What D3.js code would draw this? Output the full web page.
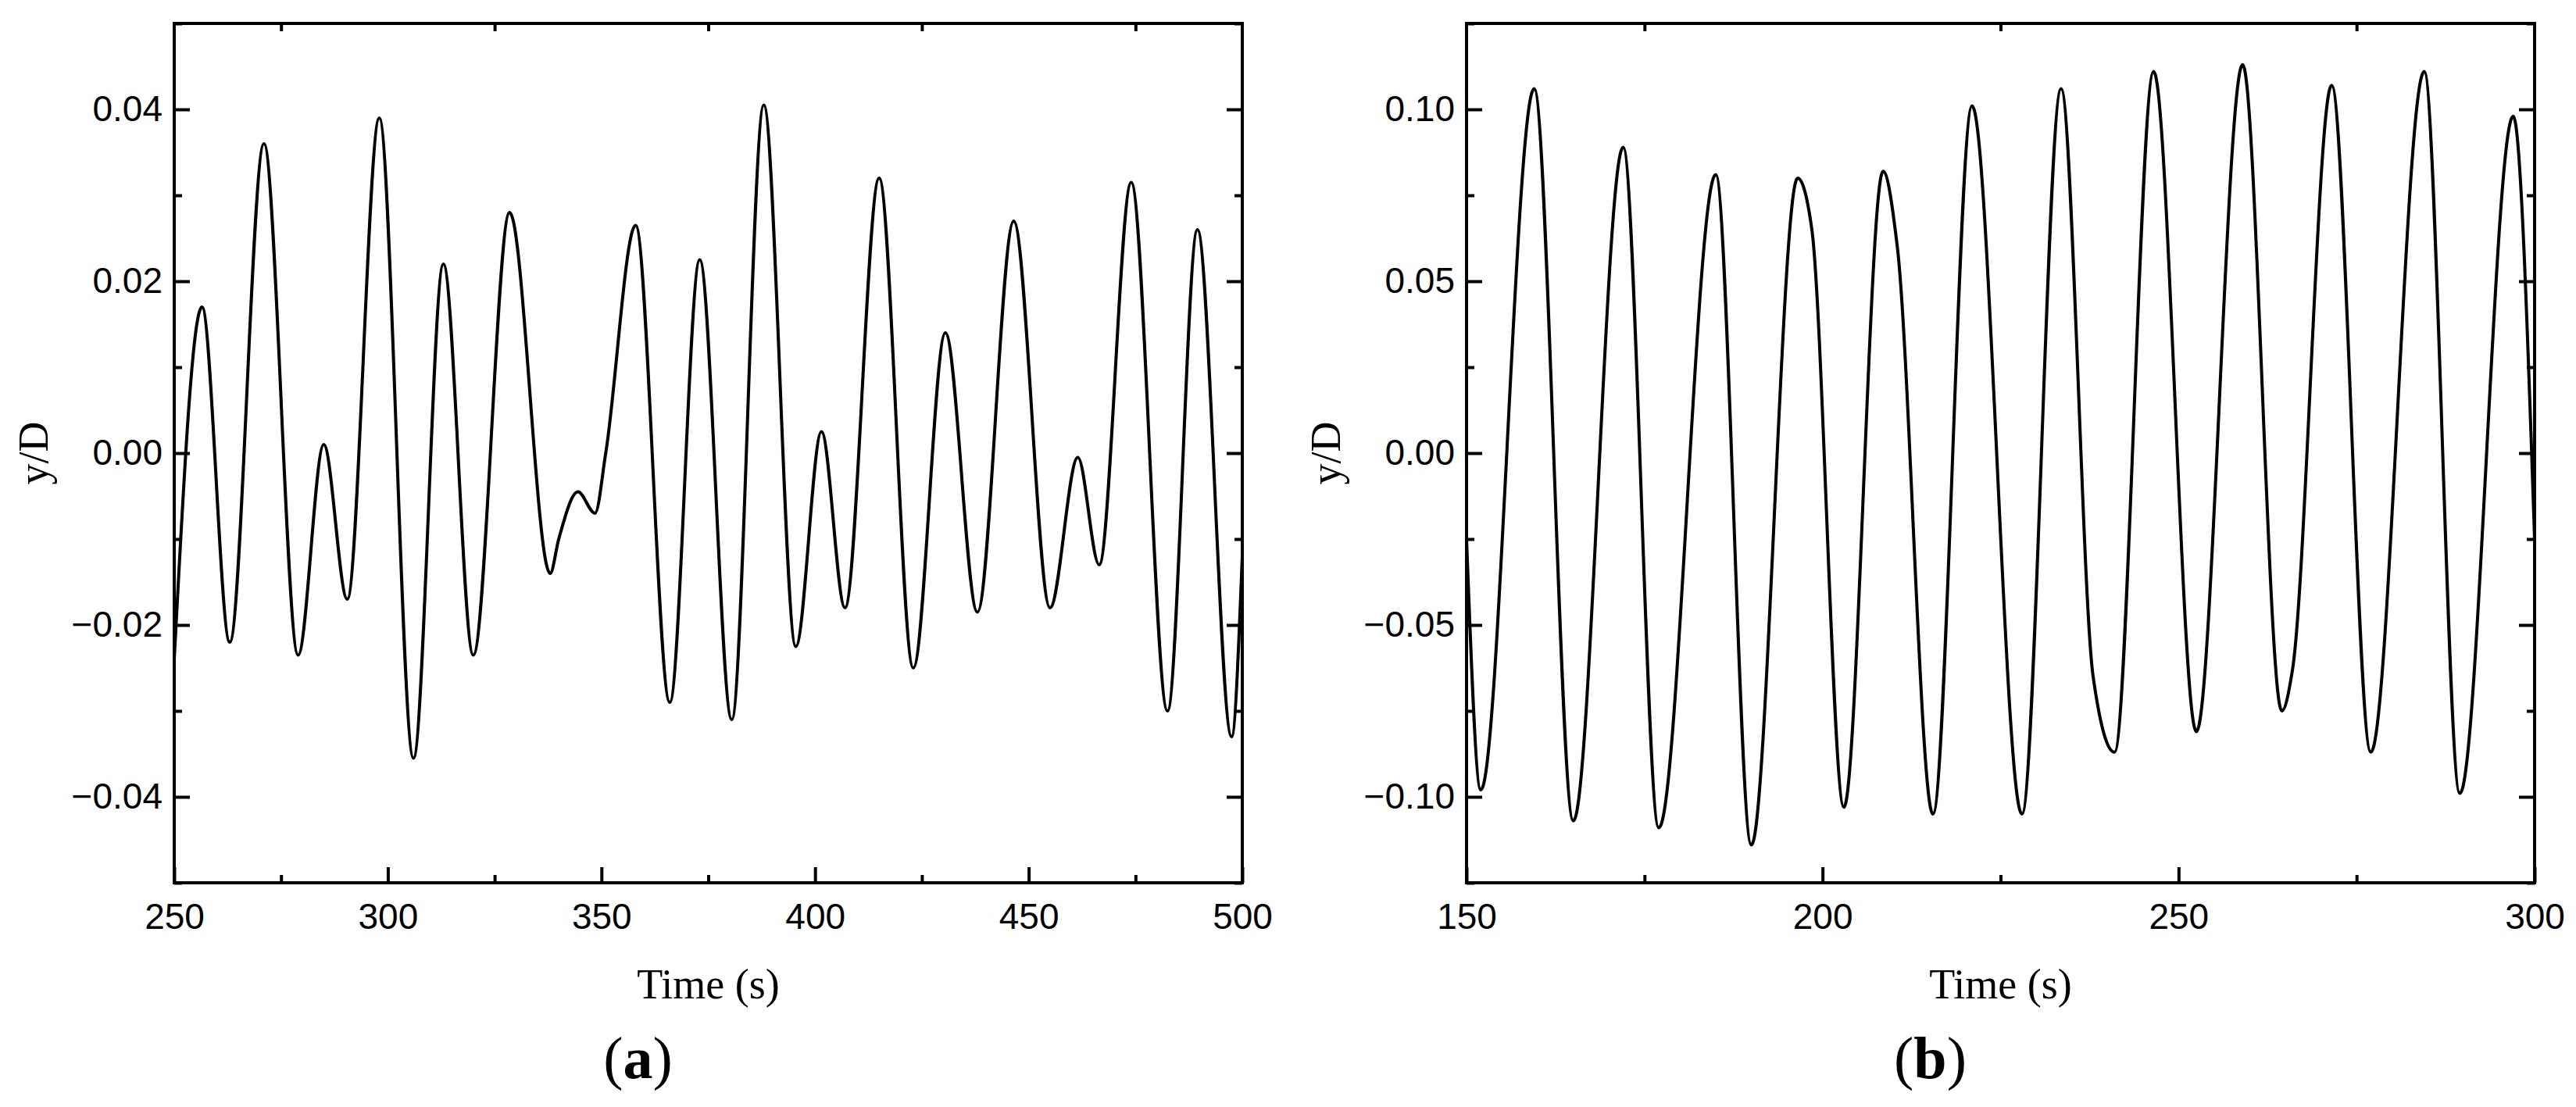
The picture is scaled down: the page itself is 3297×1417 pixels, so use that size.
<!DOCTYPE html>
<html><head><meta charset="utf-8">
<script src="https://cdn.jsdelivr.net/npm/d3@7"></script>
<style>body{margin:0;background:#fff}</style></head>
<body><svg id="c" width="3297" height="1417"></svg>
<script>
const timeA=[250,256.5,263,271,279,285,290.5,298,306,313,320,328.5,338,340,344.5,348.5,351,358,366,373,380.5,388,395.5,401.5,407,415,423,430.5,438,446.5,455,461.5,466.5,474,482.5,489.5,497.5,500];
const valA=[-0.024,0.017,-0.022,0.036,-0.0235,0.001,-0.017,0.039,-0.0355,0.022,-0.0235,0.028,-0.014,-0.010,-0.0045,-0.007,0.000,0.0265,-0.029,0.0225,-0.031,0.0405,-0.0225,0.0025,-0.018,0.032,-0.025,0.014,-0.0185,0.027,-0.018,-0.0005,-0.013,0.0315,-0.030,0.026,-0.033,-0.012];
const timeB=[150,152,159.5,165,172,177,185,190,196.5,198.5,203,208.5,210.5,215.5,221,228,233.5,238,241,246.5,252.5,259,264.5,266,271.5,277,284.5,289.5,297,300];
const valB=[-0.025,-0.098,0.106,-0.107,0.089,-0.109,0.081,-0.114,0.080,0.065,-0.103,0.082,0.060,-0.105,0.101,-0.105,0.106,-0.065,-0.087,0.111,-0.081,0.113,-0.075,-0.063,0.107,-0.087,0.111,-0.099,0.098,-0.025];
const ticksA_x=[250,300,350,400,450,500], ticksA_y=[-0.04,-0.02,0,0.02,0.04];
const ticksB_x=[150,200,250,300], ticksB_y=[-0.10,-0.05,0,0.05,0.10];
const svg=d3.select("#c");
function panel(o){
  const {x0,x1,t,v,xd,yd,xt,yt,xm,ym,lab}=o; const y0=30,y1=1130;
  const x=d3.scaleLinear().domain(xd).range([x0,x1]);
  const y=d3.scaleLinear().domain(yd).range([y1,y0]);
  const g=svg.append("g");
  const style=a=>{a.select(".domain").remove();a.selectAll("line").attr("stroke","#000").attr("stroke-width",4);
    a.selectAll("text").attr("font-family","Liberation Sans, Arial").attr("font-size",46).attr("fill","#000");};
  const allX=d3.range(xd[0],xd[1]+1e-9,xm), allY=d3.range(yd[0],yd[1]+1e-9,ym);
  const isMaj=(arr,d)=>arr.some(q=>Math.abs(q-d)<1e-9);
  g.append("g").attr("transform",`translate(0,${y1})`).call(d3.axisBottom(x).tickValues(xt).tickSize(-20).tickPadding(26).tickFormat(d3.format("d"))).call(style);
  g.append("g").attr("transform",`translate(0,${y1})`).call(d3.axisBottom(x).tickValues(allX.filter(d=>!isMaj(xt,d))).tickSize(-10).tickFormat("")).call(style);
  g.append("g").attr("transform",`translate(0,${y0})`).call(d3.axisTop(x).tickValues(allX.filter(d=>!isMaj(xt,d))).tickSize(-10).tickFormat("")).call(style);
  g.append("g").attr("transform",`translate(${x0},0)`).call(d3.axisLeft(y).tickValues(yt).tickSize(-20).tickPadding(15).tickFormat(d=>d3.format(".2f")(d).replace("-","\u2212"))).call(style);
  g.append("g").attr("transform",`translate(${x0},0)`).call(d3.axisLeft(y).tickValues(allY.filter(d=>!isMaj(yt,d))).tickSize(-10).tickFormat("")).call(style);
  g.append("g").attr("transform",`translate(${x1},0)`).call(d3.axisRight(y).tickValues(yt).tickSize(-20).tickFormat("")).call(style);
  g.append("g").attr("transform",`translate(${x1},0)`).call(d3.axisRight(y).tickValues(allY.filter(d=>!isMaj(yt,d))).tickSize(-10).tickFormat("")).call(style);
  g.append("rect").attr("x",x0).attr("y",y0).attr("width",x1-x0).attr("height",y1-y0).attr("fill","none").attr("stroke","#000").attr("stroke-width",4);
  const line=d3.line().x((d,i)=>x(t[i])).y(d=>y(d)).curve(d3.curveMonotoneX);
  g.append("path").datum(v).attr("d",line).attr("fill","none").attr("stroke","#000").attr("stroke-width",4);
  const cx=(x0+x1)/2;
  g.append("text").attr("x",cx).attr("y",1278).attr("text-anchor","middle").attr("font-family","Liberation Serif, Times New Roman").attr("font-size",54).text("Time (s)");
  g.append("text").attr("transform",`translate(${x0-162},${(y0+y1)/2}) rotate(-90)`).attr("text-anchor","middle").attr("font-family","Liberation Serif, Times New Roman").attr("font-size",54).text("y/D");
  const tt=g.append("text").attr("x",cx-90).attr("y",1380).attr("text-anchor","middle").attr("font-family","Liberation Serif, Times New Roman").attr("font-size",76);
  tt.append("tspan").text("(");tt.append("tspan").attr("font-weight","bold").text(lab);tt.append("tspan").text(")");
}
panel({x0:223,x1:1590,t:timeA,v:valA,xd:[250,500],yd:[-0.05,0.05],xt:ticksA_x,yt:ticksA_y,xm:25,ym:0.01,lab:"a"});
panel({x0:1877,x1:3244,t:timeB,v:valB,xd:[150,300],yd:[-0.125,0.125],xt:ticksB_x,yt:ticksB_y,xm:25,ym:0.025,lab:"b"});
</script></body></html>
